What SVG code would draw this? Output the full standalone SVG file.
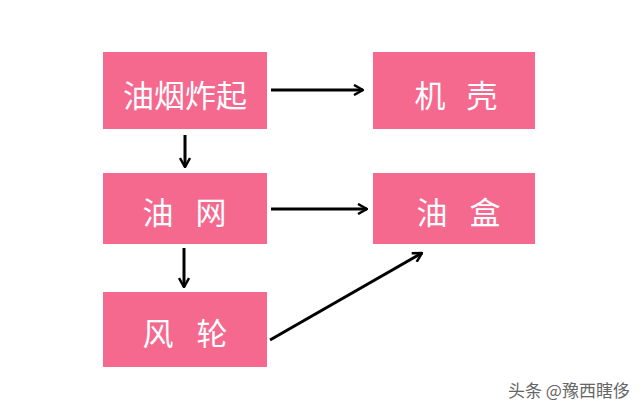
<svg xmlns="http://www.w3.org/2000/svg" width="640" height="413" viewBox="0 0 640 413">
<style>
.box{fill:#F5698F}
.t{fill:#FFFFFF;font-family:"Noto Sans CJK SC",sans-serif;font-size:31px;text-anchor:middle;dominant-baseline:central}
.c{stroke:#000;stroke-width:3;fill:none}
.wm{fill:#666;font-family:"Noto Sans CJK SC",sans-serif;font-size:17px}
</style>
<defs>
<marker id="ah" viewBox="0 0 12 12" refX="11" refY="6" markerWidth="12" markerHeight="12" markerUnits="userSpaceOnUse" orient="auto">
<path d="M2,1 L11,6 L2,11" fill="none" stroke="#000" stroke-width="2.5"/>
</marker>
</defs>
<rect width="640" height="413" fill="#FFFFFF"/>
<g id="n1"><rect class="box" x="103" y="52" width="164" height="77"/><text class="t" x="185" y="93">油烟炸起</text></g>
<g id="n2"><rect class="box" x="373" y="52" width="162" height="77"/><text class="t" x="456" y="93" xml:space="preserve"><tspan x="430">机</tspan><tspan x="482">壳</tspan></text></g>
<g id="n3"><rect class="box" x="103" y="173" width="164" height="71"/><text class="t" y="210"><tspan x="158">油</tspan><tspan x="211">网</tspan></text></g>
<g id="n4"><rect class="box" x="373" y="173" width="162" height="71"/><text class="t" y="210"><tspan x="432">油</tspan><tspan x="485">盒</tspan></text></g>
<g id="n5"><rect class="box" x="103" y="292" width="164" height="75"/><text class="t" y="331"><tspan x="158">风</tspan><tspan x="212">轮</tspan></text></g>
<g id="connectors">
<line class="c" x1="271" y1="90" x2="363" y2="90" marker-end="url(#ah)"/>
<line class="c" x1="185" y1="135" x2="185" y2="167" marker-end="url(#ah)"/>
<line class="c" x1="271" y1="209" x2="367" y2="209" marker-end="url(#ah)"/>
<line class="c" x1="184" y1="248" x2="184" y2="287" marker-end="url(#ah)"/>
<line class="c" x1="270" y1="340" x2="422" y2="253" marker-end="url(#ah)"/>
</g>
<text class="wm" x="508" y="397">头条 @豫西瞎侈</text>
</svg>
